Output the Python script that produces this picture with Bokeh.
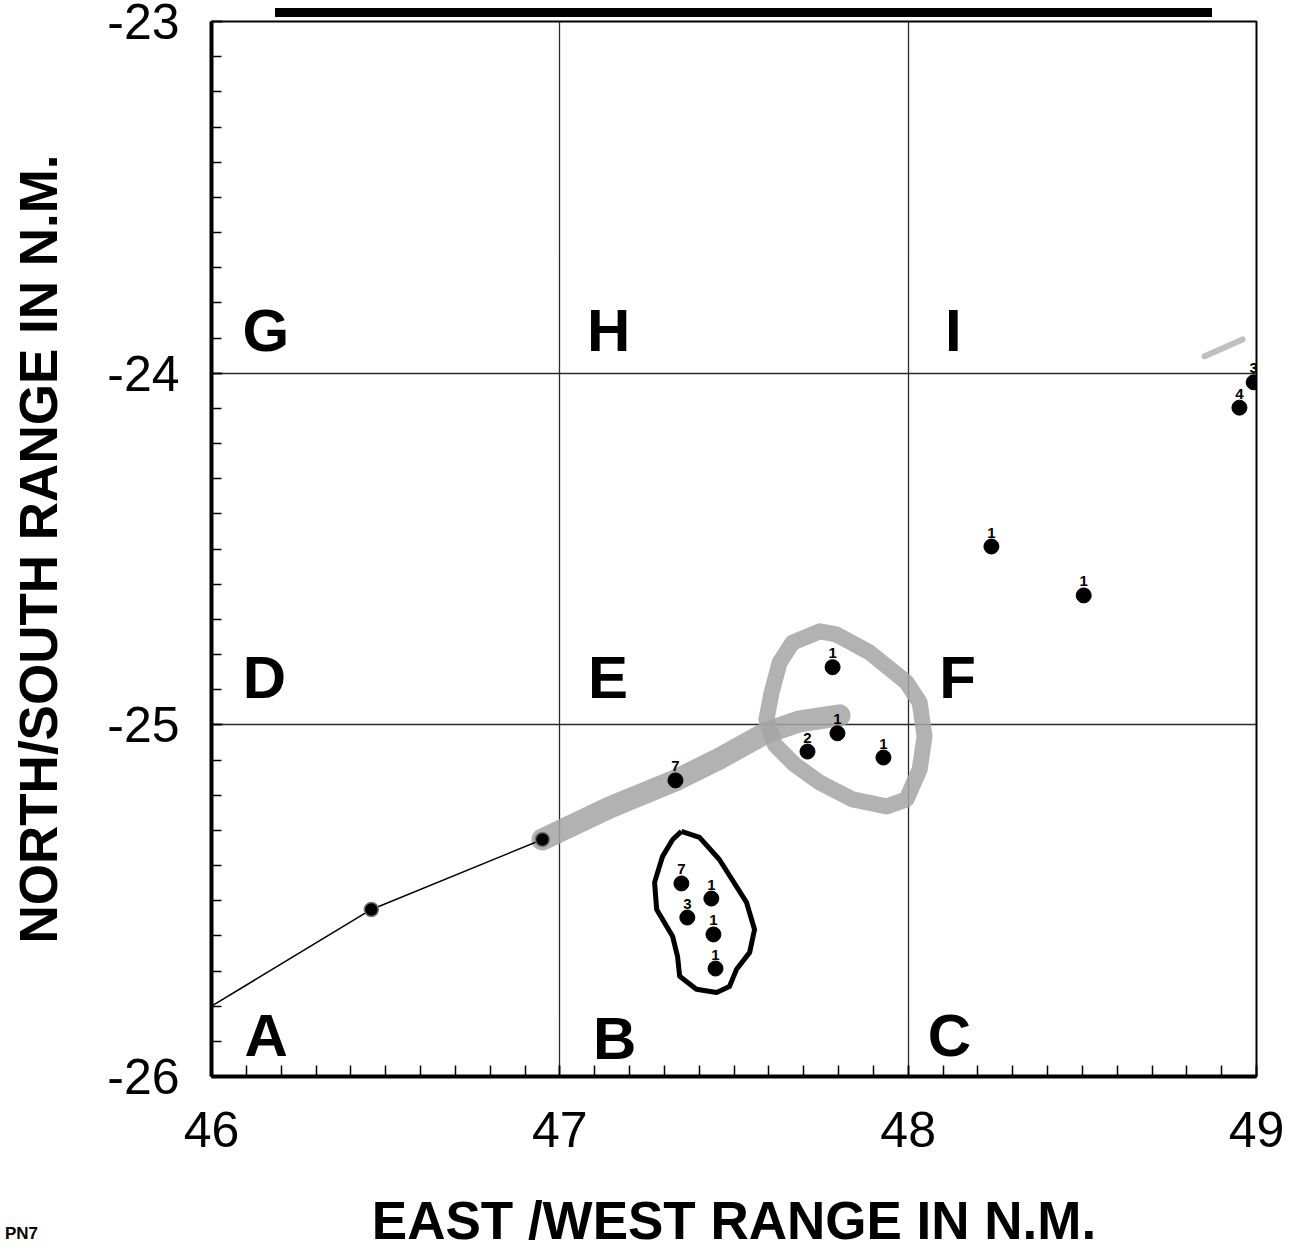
import numpy as np
from bokeh.plotting import figure
from bokeh.layouts import column
from bokeh.models import FixedTicker, Range1d, ColumnDataSource, Div
from bokeh.embed import file_html
from bokeh.resources import INLINE
from bokeh.core.properties import value

# ---- data ----
x_ticks = [46, 47, 48, 49]
y_ticks = [-26, -25, -24, -23]
y_tick_text = {-26: "-26", -25: "-25", -24: "-24", -23: "-23"}

# thin track line
track_x = [46.0, 46.459, 46.950]
track_y = [-25.80, -25.525, -25.326]

# broad grey band (left branch)
band_x = [46.950, 47.143, 47.332, 47.458, 47.593, 47.688, 47.803]
band_y = [-25.326, -25.235, -25.158, -25.096, -25.022, -24.990, -24.973]

# grey loop
loop_x = [47.593, 47.608, 47.631, 47.668, 47.746, 47.794, 47.889, 47.995, 48.033, 48.047,
          48.033, 47.995, 47.938, 47.840, 47.746, 47.674, 47.617, 47.593]
loop_y = [-24.985, -24.908, -24.823, -24.766, -24.734, -24.743, -24.794, -24.879, -24.936, -25.033,
          -25.127, -25.212, -25.232, -25.212, -25.164, -25.113, -25.056, -24.985]

# grey smudge near region I
smudge_x = [48.851, 48.960]
smudge_y = [-23.952, -23.904]

# black outline of southern cluster
outline_x = [47.349, 47.401, 47.458, 47.536, 47.559, 47.545, 47.507, 47.487, 47.450, 47.392,
             47.344, 47.338, 47.324, 47.278, 47.272, 47.295, 47.324, 47.349]
outline_y = [-25.303, -25.320, -25.383, -25.505, -25.582, -25.647, -25.696, -25.744, -25.761, -25.752,
             -25.715, -25.659, -25.602, -25.525, -25.448, -25.374, -25.326, -25.303]

# unlabelled points on the track
plain_x = [46.459, 46.950]
plain_y = [-25.525, -25.326]

# labelled points
pt_x = [47.332, 47.783, 47.711, 47.797, 47.929, 48.239, 48.504, 48.951, 48.992,
        47.349, 47.366, 47.435, 47.441, 47.447]
pt_y = [-25.158, -24.836, -25.076, -25.024, -25.093, -24.493, -24.632, -24.098, -24.026,
        -25.451, -25.548, -25.494, -25.596, -25.693]
pt_lab = ["7", "1", "2", "1", "1", "1", "1", "4", "3",
          "7", "3", "1", "1", "1"]

# region letters
region_lab = ["G", "H", "I", "D", "E", "F", "A", "B", "C"]
region_x = [46.089, 47.078, 48.106, 46.090, 47.081, 48.089, 46.095, 47.095, 48.056]
region_y = [-23.879, -23.879, -23.879, -24.865, -24.865, -24.865, -25.883, -25.892, -25.883]

# ---- figure ----
p = figure(width=1296, height=1253,
           x_range=Range1d(46, 49), y_range=Range1d(-26, -23),
           output_backend="svg", toolbar_location=None,
           min_border_left=211, min_border_right=40, min_border_top=21, min_border_bottom=177,
           background_fill_color="white", border_fill_color="white")

p.outline_line_color = "black"
p.outline_line_width = 2

minor_x = [round(v, 1) for v in np.arange(46.0, 49.001, 0.1)]
minor_y = [round(v, 1) for v in np.arange(-26.0, -22.999, 0.1)]
p.xaxis.ticker = FixedTicker(ticks=x_ticks, minor_ticks=minor_x)
p.yaxis.ticker = FixedTicker(ticks=y_ticks, minor_ticks=minor_y)
p.yaxis.major_label_overrides = y_tick_text

label_font = "Liberation Sans"

for ax in (p.xaxis[0], p.yaxis[0]):
    ax.axis_line_width = 4
    ax.axis_line_color = "black"
    ax.major_tick_in = 11
    ax.major_tick_out = 0
    ax.minor_tick_in = 11
    ax.minor_tick_out = 0
    ax.major_tick_line_width = 1.5
    ax.minor_tick_line_width = 1.5
    ax.major_label_text_font = label_font
    ax.major_label_text_font_size = "50px"
    ax.major_label_text_color = "black"
    ax.axis_label_text_font = label_font
    ax.axis_label_text_font_style = "bold"
    ax.axis_label_text_color = "black"

p.yaxis.minor_tick_in = 10
p.xaxis.major_label_standoff = 35
p.yaxis.major_label_standoff = 32

p.xaxis.axis_label = "EAST /WEST RANGE IN N.M."
p.xaxis.axis_label_text_font_size = "53px"
p.xaxis.axis_label_standoff = 41

p.yaxis.axis_label = "NORTH/SOUTH RANGE IN N.M."
p.yaxis.axis_label_text_font_size = "53px"
p.yaxis.axis_label_standoff = 36

p.xgrid.ticker = FixedTicker(ticks=[47, 48])
p.ygrid.ticker = FixedTicker(ticks=[-25, -24])
p.grid.grid_line_color = "#2a2a2a"
p.grid.grid_line_width = 1.3

# grey bands
p.line(band_x, band_y, line_width=22, color="#a4a4a4", alpha=0.85, line_cap="round", line_join="round")
p.line(loop_x, loop_y, line_width=16, color="#a4a4a4", alpha=0.85, line_cap="round", line_join="round")
p.line(smudge_x, smudge_y, line_width=6, color="#b0b0b0", alpha=0.8, line_cap="round")

# thin track
p.line(track_x, track_y, line_width=1.5, color="black")

# cluster outline
p.line(outline_x, outline_y, line_width=5, color="black", line_join="round")

# points
p.scatter(plain_x, plain_y, size=14, color="black", line_color="#777777", line_width=1.5)
src = ColumnDataSource(dict(x=pt_x, y=pt_y, t=pt_lab))
p.scatter("x", "y", source=src, size=15, color="black")
p.text("x", "y", text="t", source=src, y_offset=-9, text_align="center", text_baseline="bottom",
       text_font=value("Liberation Sans"), text_font_style="bold", text_font_size="15px", text_color="black")

# region letters
rsrc = ColumnDataSource(dict(x=region_x, y=region_y, t=region_lab))
p.text("x", "y", text="t", source=rsrc, text_align="left", text_baseline="middle",
       text_font=value("Liberation Sans"), text_font_style="bold", text_font_size="60px", text_color="black")

# scanned-page artefacts: black bar at the top edge and a corner code
bar = Div(text="", width=937, height=9,
          styles={"position": "absolute", "left": "270px", "top": "3px",
                  "background-color": "black"})
code = Div(text="PN7",
           styles={"position": "absolute", "left": "0px", "top": "1217px",
                   "font-family": "Liberation Sans", "font-weight": "bold",
                   "font-size": "17px", "color": "black"})

layout = column(p, bar, code)
open("out.html", "w").write(file_html(layout, INLINE))
